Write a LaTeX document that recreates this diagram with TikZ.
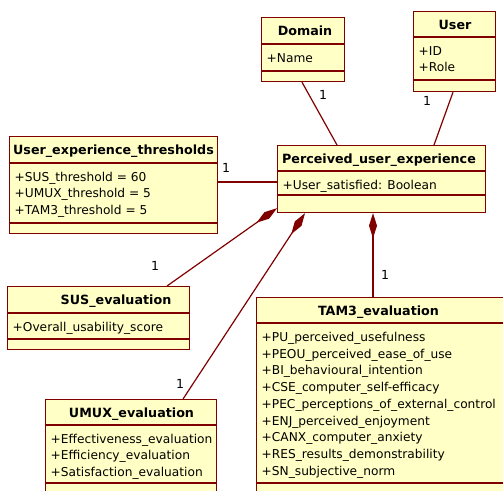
\documentclass[tikz,border=0pt]{standalone}
\usepackage{fontspec}
\usetikzlibrary{arrows.meta}
\newfontfamily\umlfont{DejaVu Sans}
\definecolor{umlfill}{RGB}{255,255,198}
\definecolor{umlline}{RGB}{128,0,0}
\begin{document}
\begin{tikzpicture}[x=1pt, y=-1pt]
\tikzset{
  classbox/.style={draw=umlline, fill=umlfill, line width=1.2pt, anchor=north west, inner sep=0pt},
  classtitle/.style={anchor=base, inner sep=0pt, font=\umlfont\bfseries\fontsize{12.7}{15}\selectfont},
  classattr/.style={anchor=base west, inner sep=0pt, font=\umlfont\fontsize{12.2}{15}\selectfont},
  classsep/.style={draw=umlline, line width=1.8pt},
  assoc/.style={draw=umlline, line width=1.2pt},
  compose/.style={assoc, -{Diamond[length=25pt, width=8pt]}},
  mult/.style={inner sep=0pt, font=\umlfont\fontsize{12.5}{15}\selectfont}
}
\useasboundingbox (0,0) rectangle (503,490);
\clip (0,0) rectangle (503,490);
% classes
\node (domain) at (261,17) [classbox, minimum width=83pt, minimum height=64pt] {};
\draw[classsep] ([yshift=-27pt]domain.north west) -- ([yshift=-27pt]domain.north east);
\draw[classsep] ([yshift=-54pt]domain.north west) -- ([yshift=-54pt]domain.north east);
\node (domainT) at ([xshift=44pt,yshift=-18.5pt]domain.north west) [classtitle] {Domain};
\node (domainA1) at ([xshift=5.5pt,yshift=-45.5pt]domain.north west) [classattr] {+Name};
\node (user) at (413,11) [classbox, minimum width=82pt, minimum height=80pt] {};
\draw[classsep] ([yshift=-26pt]user.north west) -- ([yshift=-26pt]user.north east);
\draw[classsep] ([yshift=-69pt]user.north west) -- ([yshift=-69pt]user.north east);
\node (userT) at ([xshift=42pt,yshift=-18pt]user.north west) [classtitle] {User};
\node (userA1) at ([xshift=5.5pt,yshift=-44.5pt]user.north west) [classattr] {+ID};
\node (userA2) at ([xshift=5.5pt,yshift=-60.8pt]user.north west) [classattr] {+Role};
\node (pue) at (277,145) [classbox, minimum width=208pt, minimum height=67pt] {};
\draw[classsep] ([yshift=-26pt]pue.north west) -- ([yshift=-26pt]pue.north east);
\draw[classsep] ([yshift=-50pt]pue.north west) -- ([yshift=-50pt]pue.north east);
\node (pueT) at ([xshift=102pt,yshift=-18pt]pue.north west) [classtitle] {Perceived\_user\_experience};
\node (pueA1) at ([xshift=5.5pt,yshift=-44.5pt]pue.north west) [classattr] {+User\_satisfied: Boolean};
\node (thr) at (9,136) [classbox, minimum width=208pt, minimum height=97pt] {};
\draw[classsep] ([yshift=-27pt]thr.north west) -- ([yshift=-27pt]thr.north east);
\draw[classsep] ([yshift=-87pt]thr.north west) -- ([yshift=-87pt]thr.north east);
\node (thrT) at ([xshift=104.5pt,yshift=-18.5pt]thr.north west) [classtitle] {User\_experience\_thresholds};
\node (thrA1) at ([xshift=5.5pt,yshift=-45.5pt]thr.north west) [classattr] {+SUS\_threshold = 60};
\node (thrA2) at ([xshift=5.5pt,yshift=-61.8pt]thr.north west) [classattr] {+UMUX\_threshold = 5};
\node (thrA3) at ([xshift=5.5pt,yshift=-78.1pt]thr.north west) [classattr] {+TAM3\_threshold = 5};
\node (sus) at (7,286) [classbox, minimum width=182pt, minimum height=63pt] {};
\draw[classsep] ([yshift=-27pt]sus.north west) -- ([yshift=-27pt]sus.north east);
\draw[classsep] ([yshift=-53pt]sus.north west) -- ([yshift=-53pt]sus.north east);
\node (susT) at ([xshift=109pt,yshift=-18.5pt]sus.north west) [classtitle] {SUS\_evaluation};
\node (susA1) at ([xshift=5.5pt,yshift=-45.5pt]sus.north west) [classattr] {+Overall\_usability\_score};
\node (umux) at (45,399) [classbox, minimum width=171pt, minimum height=120pt] {};
\draw[classsep] ([yshift=-26pt]umux.north west) -- ([yshift=-26pt]umux.north east);
\draw[classsep] ([yshift=-84pt]umux.north west) -- ([yshift=-84pt]umux.north east);
\node (umuxT) at ([xshift=86.5pt,yshift=-18pt]umux.north west) [classtitle] {UMUX\_evaluation};
\node (umuxA1) at ([xshift=5.5pt,yshift=-44.5pt]umux.north west) [classattr] {+Effectiveness\_evaluation};
\node (umuxA2) at ([xshift=5.5pt,yshift=-60.8pt]umux.north west) [classattr] {+Efficiency\_evaluation};
\node (umuxA3) at ([xshift=5.5pt,yshift=-77.1pt]umux.north west) [classattr] {+Satisfaction\_evaluation};
\node (tam) at (256,297) [classbox, minimum width=270pt, minimum height=230pt] {};
\draw[classsep] ([yshift=-26pt]tam.north west) -- ([yshift=-26pt]tam.north east);
\draw[classsep] ([yshift=-186pt]tam.north west) -- ([yshift=-186pt]tam.north east);
\node (tamT) at ([xshift=122.5pt,yshift=-18pt]tam.north west) [classtitle] {TAM3\_evaluation};
\node (tamA1) at ([xshift=5.5pt,yshift=-44.5pt]tam.north west) [classattr] {+PU\_perceived\_usefulness};
\node (tamA2) at ([xshift=5.5pt,yshift=-61.2pt]tam.north west) [classattr] {+PEOU\_perceived\_ease\_of\_use};
\node (tamA3) at ([xshift=5.5pt,yshift=-77.9pt]tam.north west) [classattr] {+BI\_behavioural\_intention};
\node (tamA4) at ([xshift=5.5pt,yshift=-94.6pt]tam.north west) [classattr] {+CSE\_computer\_self-efficacy};
\node (tamA5) at ([xshift=5.5pt,yshift=-111.3pt]tam.north west) [classattr] {+PEC\_perceptions\_of\_external\_control};
\node (tamA6) at ([xshift=5.5pt,yshift=-128pt]tam.north west) [classattr] {+ENJ\_perceived\_enjoyment};
\node (tamA7) at ([xshift=5.5pt,yshift=-144.7pt]tam.north west) [classattr] {+CANX\_computer\_anxiety};
\node (tamA8) at ([xshift=5.5pt,yshift=-161.4pt]tam.north west) [classattr] {+RES\_results\_demonstrability};
\node (tamA9) at ([xshift=5.5pt,yshift=-178.1pt]tam.north west) [classattr] {+SN\_subjective\_norm};
% associations
\draw[assoc] ([xshift=41pt]domain.south west) -- ([xshift=60pt]pue.north west);
\draw[assoc] ([xshift=40pt]user.south west) -- ([xshift=157pt]pue.north west);
\draw[assoc] ([yshift=-46pt]thr.north east) -- ([yshift=-37pt]pue.north west);
\draw[compose] ([xshift=160pt]sus.north west) -- ([yshift=5pt]pue.south west);
\draw[compose] ([xshift=138pt]umux.north west) -- ([xshift=28pt]pue.south west);
\draw[compose] ([xshift=117pt]tam.north west) -- ([xshift=96pt]pue.south west);
% multiplicities
\node (mDomain) at (323,95) [mult] {1};
\node (mUser) at (427,101) [mult] {1};
\node (mThr) at (226,168) [mult] {1};
\node (mSus) at (155,266) [mult] {1};
\node (mUmux) at (180,384) [mult] {1};
\node (mTam) at (385,275) [mult] {1};
\end{tikzpicture}
\end{document}
